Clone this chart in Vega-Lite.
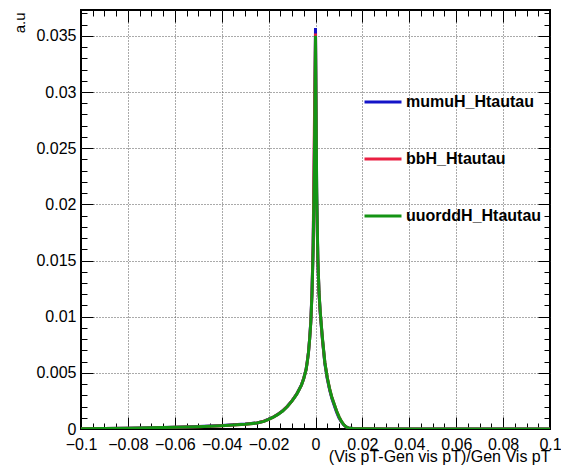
{
  "$schema": "https://vega.github.io/schema/vega-lite/v6.json",
  "width": 469,
  "height": 419,
  "autosize": "none",
  "padding": {"left": 81, "top": 10, "right": 11, "bottom": 41},
  "background": "white",
  "config": {
    "view": {"stroke": "black", "strokeWidth": 2},
    "font": "Liberation Sans",
    "axis": {"labelFont": "Liberation Sans", "titleFont": "Liberation Sans", "tickColor": "black", "labelColor": "black", "titleColor": "black"}
  },
  "datasets": {
    "hist": [
      {"s": "mumuH_Htautau", "x": -0.1, "y": 0.00002}, {"s": "mumuH_Htautau", "x": -0.09, "y": 0.00004}, {"s": "mumuH_Htautau", "x": -0.08, "y": 0.00007}, {"s": "mumuH_Htautau", "x": -0.07, "y": 0.00011}, {"s": "mumuH_Htautau", "x": -0.06, "y": 0.00016}, {"s": "mumuH_Htautau", "x": -0.05, "y": 0.00022}, {"s": "mumuH_Htautau", "x": -0.045, "y": 0.00026}, {"s": "mumuH_Htautau", "x": -0.04, "y": 0.00031}, {"s": "mumuH_Htautau", "x": -0.035, "y": 0.00037}, {"s": "mumuH_Htautau", "x": -0.03, "y": 0.00044}, {"s": "mumuH_Htautau", "x": -0.025, "y": 0.00054}, {"s": "mumuH_Htautau", "x": -0.022, "y": 0.0007}, {"s": "mumuH_Htautau", "x": -0.02, "y": 0.00087}, {"s": "mumuH_Htautau", "x": -0.018, "y": 0.00107}, {"s": "mumuH_Htautau", "x": -0.016, "y": 0.00132}, {"s": "mumuH_Htautau", "x": -0.014, "y": 0.00162}, {"s": "mumuH_Htautau", "x": -0.012, "y": 0.00202}, {"s": "mumuH_Htautau", "x": -0.01, "y": 0.00252}, {"s": "mumuH_Htautau", "x": -0.009, "y": 0.00282}, {"s": "mumuH_Htautau", "x": -0.008, "y": 0.00312}, {"s": "mumuH_Htautau", "x": -0.007, "y": 0.00352}, {"s": "mumuH_Htautau", "x": -0.006, "y": 0.00392}, {"s": "mumuH_Htautau", "x": -0.005, "y": 0.00452}, {"s": "mumuH_Htautau", "x": -0.004, "y": 0.00532}, {"s": "mumuH_Htautau", "x": -0.0035, "y": 0.00602}, {"s": "mumuH_Htautau", "x": -0.003, "y": 0.00682}, {"s": "mumuH_Htautau", "x": -0.0025, "y": 0.00802}, {"s": "mumuH_Htautau", "x": -0.002, "y": 0.0096}, {"s": "mumuH_Htautau", "x": -0.0015, "y": 0.0122}, {"s": "mumuH_Htautau", "x": -0.001, "y": 0.0163}, {"s": "mumuH_Htautau", "x": -0.0005, "y": 0.0245}, {"s": "mumuH_Htautau", "x": 0, "y": 0.0357}, {"s": "mumuH_Htautau", "x": 0.0005, "y": 0.021}, {"s": "mumuH_Htautau", "x": 0.001, "y": 0.015}, {"s": "mumuH_Htautau", "x": 0.0015, "y": 0.0121}, {"s": "mumuH_Htautau", "x": 0.002, "y": 0.0104}, {"s": "mumuH_Htautau", "x": 0.0025, "y": 0.0091}, {"s": "mumuH_Htautau", "x": 0.003, "y": 0.0079}, {"s": "mumuH_Htautau", "x": 0.004, "y": 0.0058}, {"s": "mumuH_Htautau", "x": 0.005, "y": 0.0045}, {"s": "mumuH_Htautau", "x": 0.006, "y": 0.0035}, {"s": "mumuH_Htautau", "x": 0.007, "y": 0.0027}, {"s": "mumuH_Htautau", "x": 0.008, "y": 0.0021}, {"s": "mumuH_Htautau", "x": 0.009, "y": 0.0015}, {"s": "mumuH_Htautau", "x": 0.01, "y": 0.001}, {"s": "mumuH_Htautau", "x": 0.011, "y": 0.00065}, {"s": "mumuH_Htautau", "x": 0.012, "y": 0.00038}, {"s": "mumuH_Htautau", "x": 0.013, "y": 0.0002}, {"s": "mumuH_Htautau", "x": 0.014, "y": 0.0001}, {"s": "mumuH_Htautau", "x": 0.016, "y": 0.00004}, {"s": "mumuH_Htautau", "x": 0.02, "y": 0.00002}, {"s": "mumuH_Htautau", "x": 0.03, "y": 0.00001}, {"s": "mumuH_Htautau", "x": 0.05, "y": 0.00001}, {"s": "mumuH_Htautau", "x": 0.07, "y": 0}, {"s": "mumuH_Htautau", "x": 0.1, "y": 0},

      {"s": "bbH_Htautau", "x": -0.1, "y": 0.00002}, {"s": "bbH_Htautau", "x": -0.09, "y": 0.00004}, {"s": "bbH_Htautau", "x": -0.08, "y": 0.00006}, {"s": "bbH_Htautau", "x": -0.07, "y": 0.0001}, {"s": "bbH_Htautau", "x": -0.06, "y": 0.00015}, {"s": "bbH_Htautau", "x": -0.05, "y": 0.0002}, {"s": "bbH_Htautau", "x": -0.045, "y": 0.00025}, {"s": "bbH_Htautau", "x": -0.04, "y": 0.0003}, {"s": "bbH_Htautau", "x": -0.035, "y": 0.00036}, {"s": "bbH_Htautau", "x": -0.03, "y": 0.00043}, {"s": "bbH_Htautau", "x": -0.025, "y": 0.00053}, {"s": "bbH_Htautau", "x": -0.022, "y": 0.00069}, {"s": "bbH_Htautau", "x": -0.02, "y": 0.00086}, {"s": "bbH_Htautau", "x": -0.018, "y": 0.00106}, {"s": "bbH_Htautau", "x": -0.016, "y": 0.00131}, {"s": "bbH_Htautau", "x": -0.014, "y": 0.00161}, {"s": "bbH_Htautau", "x": -0.012, "y": 0.00201}, {"s": "bbH_Htautau", "x": -0.01, "y": 0.00251}, {"s": "bbH_Htautau", "x": -0.009, "y": 0.00281}, {"s": "bbH_Htautau", "x": -0.008, "y": 0.00311}, {"s": "bbH_Htautau", "x": -0.007, "y": 0.00351}, {"s": "bbH_Htautau", "x": -0.006, "y": 0.00391}, {"s": "bbH_Htautau", "x": -0.005, "y": 0.00451}, {"s": "bbH_Htautau", "x": -0.004, "y": 0.00531}, {"s": "bbH_Htautau", "x": -0.0035, "y": 0.00601}, {"s": "bbH_Htautau", "x": -0.003, "y": 0.00681}, {"s": "bbH_Htautau", "x": -0.0025, "y": 0.00801}, {"s": "bbH_Htautau", "x": -0.002, "y": 0.0095}, {"s": "bbH_Htautau", "x": -0.0015, "y": 0.0121}, {"s": "bbH_Htautau", "x": -0.001, "y": 0.0165}, {"s": "bbH_Htautau", "x": -0.0005, "y": 0.0265}, {"s": "bbH_Htautau", "x": 0, "y": 0.0352}, {"s": "bbH_Htautau", "x": 0.0005, "y": 0.0205}, {"s": "bbH_Htautau", "x": 0.001, "y": 0.0151}, {"s": "bbH_Htautau", "x": 0.0015, "y": 0.0121}, {"s": "bbH_Htautau", "x": 0.002, "y": 0.0104}, {"s": "bbH_Htautau", "x": 0.0025, "y": 0.0092}, {"s": "bbH_Htautau", "x": 0.003, "y": 0.0079}, {"s": "bbH_Htautau", "x": 0.004, "y": 0.0059}, {"s": "bbH_Htautau", "x": 0.005, "y": 0.0046}, {"s": "bbH_Htautau", "x": 0.006, "y": 0.0036}, {"s": "bbH_Htautau", "x": 0.007, "y": 0.0028}, {"s": "bbH_Htautau", "x": 0.008, "y": 0.0022}, {"s": "bbH_Htautau", "x": 0.009, "y": 0.0016}, {"s": "bbH_Htautau", "x": 0.01, "y": 0.0011}, {"s": "bbH_Htautau", "x": 0.011, "y": 0.0007}, {"s": "bbH_Htautau", "x": 0.012, "y": 0.0004}, {"s": "bbH_Htautau", "x": 0.013, "y": 0.0002}, {"s": "bbH_Htautau", "x": 0.014, "y": 0.0001}, {"s": "bbH_Htautau", "x": 0.016, "y": 0.00004}, {"s": "bbH_Htautau", "x": 0.02, "y": 0.00002}, {"s": "bbH_Htautau", "x": 0.03, "y": 0.00001}, {"s": "bbH_Htautau", "x": 0.05, "y": 0.00001}, {"s": "bbH_Htautau", "x": 0.07, "y": 0}, {"s": "bbH_Htautau", "x": 0.1, "y": 0},

      {"s": "uuorddH_Htautau", "x": -0.1, "y": 0.00002}, {"s": "uuorddH_Htautau", "x": -0.09, "y": 0.00004}, {"s": "uuorddH_Htautau", "x": -0.08, "y": 0.00007}, {"s": "uuorddH_Htautau", "x": -0.07, "y": 0.00011}, {"s": "uuorddH_Htautau", "x": -0.06, "y": 0.00015}, {"s": "uuorddH_Htautau", "x": -0.05, "y": 0.00021}, {"s": "uuorddH_Htautau", "x": -0.045, "y": 0.00025}, {"s": "uuorddH_Htautau", "x": -0.04, "y": 0.0003}, {"s": "uuorddH_Htautau", "x": -0.035, "y": 0.00036}, {"s": "uuorddH_Htautau", "x": -0.03, "y": 0.00043}, {"s": "uuorddH_Htautau", "x": -0.025, "y": 0.00053}, {"s": "uuorddH_Htautau", "x": -0.022, "y": 0.00068}, {"s": "uuorddH_Htautau", "x": -0.02, "y": 0.00085}, {"s": "uuorddH_Htautau", "x": -0.018, "y": 0.00105}, {"s": "uuorddH_Htautau", "x": -0.016, "y": 0.0013}, {"s": "uuorddH_Htautau", "x": -0.014, "y": 0.0016}, {"s": "uuorddH_Htautau", "x": -0.012, "y": 0.002}, {"s": "uuorddH_Htautau", "x": -0.01, "y": 0.0025}, {"s": "uuorddH_Htautau", "x": -0.009, "y": 0.0028}, {"s": "uuorddH_Htautau", "x": -0.008, "y": 0.0031}, {"s": "uuorddH_Htautau", "x": -0.007, "y": 0.0035}, {"s": "uuorddH_Htautau", "x": -0.006, "y": 0.0039}, {"s": "uuorddH_Htautau", "x": -0.005, "y": 0.0045}, {"s": "uuorddH_Htautau", "x": -0.004, "y": 0.0053}, {"s": "uuorddH_Htautau", "x": -0.0035, "y": 0.006}, {"s": "uuorddH_Htautau", "x": -0.003, "y": 0.0068}, {"s": "uuorddH_Htautau", "x": -0.0025, "y": 0.008}, {"s": "uuorddH_Htautau", "x": -0.002, "y": 0.0095}, {"s": "uuorddH_Htautau", "x": -0.0015, "y": 0.012}, {"s": "uuorddH_Htautau", "x": -0.001, "y": 0.016}, {"s": "uuorddH_Htautau", "x": -0.0005, "y": 0.023}, {"s": "uuorddH_Htautau", "x": 0, "y": 0.035}, {"s": "uuorddH_Htautau", "x": 0.0005, "y": 0.0215}, {"s": "uuorddH_Htautau", "x": 0.001, "y": 0.0152}, {"s": "uuorddH_Htautau", "x": 0.0015, "y": 0.0122}, {"s": "uuorddH_Htautau", "x": 0.002, "y": 0.0105}, {"s": "uuorddH_Htautau", "x": 0.0025, "y": 0.0092}, {"s": "uuorddH_Htautau", "x": 0.003, "y": 0.008}, {"s": "uuorddH_Htautau", "x": 0.004, "y": 0.0059}, {"s": "uuorddH_Htautau", "x": 0.005, "y": 0.0046}, {"s": "uuorddH_Htautau", "x": 0.006, "y": 0.0036}, {"s": "uuorddH_Htautau", "x": 0.007, "y": 0.0028}, {"s": "uuorddH_Htautau", "x": 0.008, "y": 0.0022}, {"s": "uuorddH_Htautau", "x": 0.009, "y": 0.0016}, {"s": "uuorddH_Htautau", "x": 0.01, "y": 0.0011}, {"s": "uuorddH_Htautau", "x": 0.011, "y": 0.0007}, {"s": "uuorddH_Htautau", "x": 0.012, "y": 0.0004}, {"s": "uuorddH_Htautau", "x": 0.013, "y": 0.0002}, {"s": "uuorddH_Htautau", "x": 0.014, "y": 0.0001}, {"s": "uuorddH_Htautau", "x": 0.016, "y": 0.00004}, {"s": "uuorddH_Htautau", "x": 0.02, "y": 0.00002}, {"s": "uuorddH_Htautau", "x": 0.03, "y": 0.00001}, {"s": "uuorddH_Htautau", "x": 0.05, "y": 0.00001}, {"s": "uuorddH_Htautau", "x": 0.07, "y": 0}, {"s": "uuorddH_Htautau", "x": 0.1, "y": 0}
    ]
  },
  "data": {"name": "hist"},
  "resolve": {"axis": {"x": "independent", "y": "independent"}},
  "layer": [
    {
      "transform": [{"filter": "datum.s === 'mumuH_Htautau'"}],
      "mark": {"type": "line", "strokeWidth": 3, "clip": true},
      "encoding": {
        "x": {"field": "x", "type": "quantitative", "scale": {"domain": [-0.1, 0.1], "nice": false, "zero": false},
          "axis": {"orient": "bottom", "title": "(Vis pT-Gen vis pT)/Gen Vis pT", "titleFontSize": 16, "titleFontWeight": "normal", "titleAnchor": "end", "titleAlign": "right", "titleBaseline": "alphabetic", "titleX": 469, "titleY": 32,
            "values": [-0.1, -0.095, -0.09, -0.085, -0.08, -0.075, -0.07, -0.065, -0.06, -0.055, -0.05, -0.045, -0.04, -0.035, -0.03, -0.025, -0.02, -0.015, -0.01, -0.005, 0, 0.005, 0.01, 0.015, 0.02, 0.025, 0.03, 0.035, 0.04, 0.045, 0.05, 0.055, 0.06, 0.065, 0.07, 0.075, 0.08, 0.085, 0.09, 0.095, 0.1],
            "domain": false, "labelFontSize": 16, "labelOverlap": false, "labelFlush": false, "labelPadding": 19,
            "labelExpr": "abs(datum.value*50 - round(datum.value*50)) < 0.001 ? format(datum.value, '~g') : ''",
            "tickSize": {"condition": {"test": "abs(datum.value*50 - round(datum.value*50)) < 0.001", "value": -12}, "value": -6},
            "tickWidth": 1,
            "grid": true, "gridColor": "#555", "gridDash": [1, 2], "gridWidth": 1,
            "gridOpacity": {"condition": {"test": "abs(datum.value*50 - round(datum.value*50)) < 0.001 && abs(datum.value) < 0.099", "value": 1}, "value": 0}
          }},
        "y": {"field": "y", "type": "quantitative", "scale": {"domain": [0, 0.0373], "nice": false},
          "axis": {"orient": "left", "title": "a.u", "titleFontSize": 15, "titleFontWeight": "normal", "titleAngle": -90, "titleAlign": "right", "titleBaseline": "alphabetic", "titleX": -57, "titleY": 2,
            "values": [0, 0.001, 0.002, 0.003, 0.004, 0.005, 0.006, 0.007, 0.008, 0.009, 0.01, 0.011, 0.012, 0.013, 0.014, 0.015, 0.016, 0.017, 0.018, 0.019, 0.02, 0.021, 0.022, 0.023, 0.024, 0.025, 0.026, 0.027, 0.028, 0.029, 0.03, 0.031, 0.032, 0.033, 0.034, 0.035, 0.036, 0.037],
            "domain": false, "labelFontSize": 16, "labelOverlap": false, "labelFlush": false, "labelPadding": 17,
            "labelExpr": "abs(datum.value*200 - round(datum.value*200)) < 0.001 ? format(datum.value, '~g') : ''",
            "tickSize": {"condition": {"test": "abs(datum.value*200 - round(datum.value*200)) < 0.001", "value": -12}, "value": -6},
            "tickWidth": 1,
            "grid": true, "gridColor": "#555", "gridDash": [1, 2], "gridWidth": 1,
            "gridOpacity": {"condition": {"test": "abs(datum.value*200 - round(datum.value*200)) < 0.001 && datum.value > 0.0001", "value": 1}, "value": 0}
          }},
        "color": {"field": "s", "type": "nominal",
          "scale": {"domain": ["mumuH_Htautau", "bbH_Htautau", "uuorddH_Htautau"], "range": ["#1414c8", "#ea1f42", "#149414"]},
          "legend": {"orient": "none", "legendX": 282, "legendY": 72, "title": null, "padding": 0, "symbolType": "stroke", "symbolSize": 1369, "symbolStrokeWidth": 3, "rowPadding": 29, "labelOffset": 3, "labelFontSize": 16, "labelFontWeight": "bold", "labelFont": "Liberation Sans", "labelColor": "black"}}
      }
    },
    {
      "transform": [{"filter": "datum.s === 'bbH_Htautau'"}],
      "mark": {"type": "line", "strokeWidth": 3, "clip": true},
      "encoding": {
        "x": {"field": "x", "type": "quantitative", "scale": {"domain": [-0.1, 0.1], "nice": false, "zero": false},
          "axis": {"orient": "top", "title": null, "labels": false, "domain": false, "grid": false,
            "values": [-0.1, -0.095, -0.09, -0.085, -0.08, -0.075, -0.07, -0.065, -0.06, -0.055, -0.05, -0.045, -0.04, -0.035, -0.03, -0.025, -0.02, -0.015, -0.01, -0.005, 0, 0.005, 0.01, 0.015, 0.02, 0.025, 0.03, 0.035, 0.04, 0.045, 0.05, 0.055, 0.06, 0.065, 0.07, 0.075, 0.08, 0.085, 0.09, 0.095, 0.1],
            "tickSize": {"condition": {"test": "abs(datum.value*50 - round(datum.value*50)) < 0.001", "value": -12}, "value": -6},
            "tickWidth": 1}},
        "y": {"field": "y", "type": "quantitative", "scale": {"domain": [0, 0.0373], "nice": false},
          "axis": {"orient": "right", "title": null, "labels": false, "domain": false, "grid": false,
            "values": [0, 0.001, 0.002, 0.003, 0.004, 0.005, 0.006, 0.007, 0.008, 0.009, 0.01, 0.011, 0.012, 0.013, 0.014, 0.015, 0.016, 0.017, 0.018, 0.019, 0.02, 0.021, 0.022, 0.023, 0.024, 0.025, 0.026, 0.027, 0.028, 0.029, 0.03, 0.031, 0.032, 0.033, 0.034, 0.035, 0.036, 0.037],
            "tickSize": {"condition": {"test": "abs(datum.value*200 - round(datum.value*200)) < 0.001", "value": -12}, "value": -6},
            "tickWidth": 1}},
        "color": {"field": "s", "type": "nominal"}
      }
    },
    {
      "transform": [{"filter": "datum.s === 'uuorddH_Htautau'"}],
      "mark": {"type": "line", "strokeWidth": 3, "clip": true},
      "encoding": {
        "x": {"field": "x", "type": "quantitative", "axis": null},
        "y": {"field": "y", "type": "quantitative", "axis": null},
        "color": {"field": "s", "type": "nominal"}
      }
    }
  ]
}
